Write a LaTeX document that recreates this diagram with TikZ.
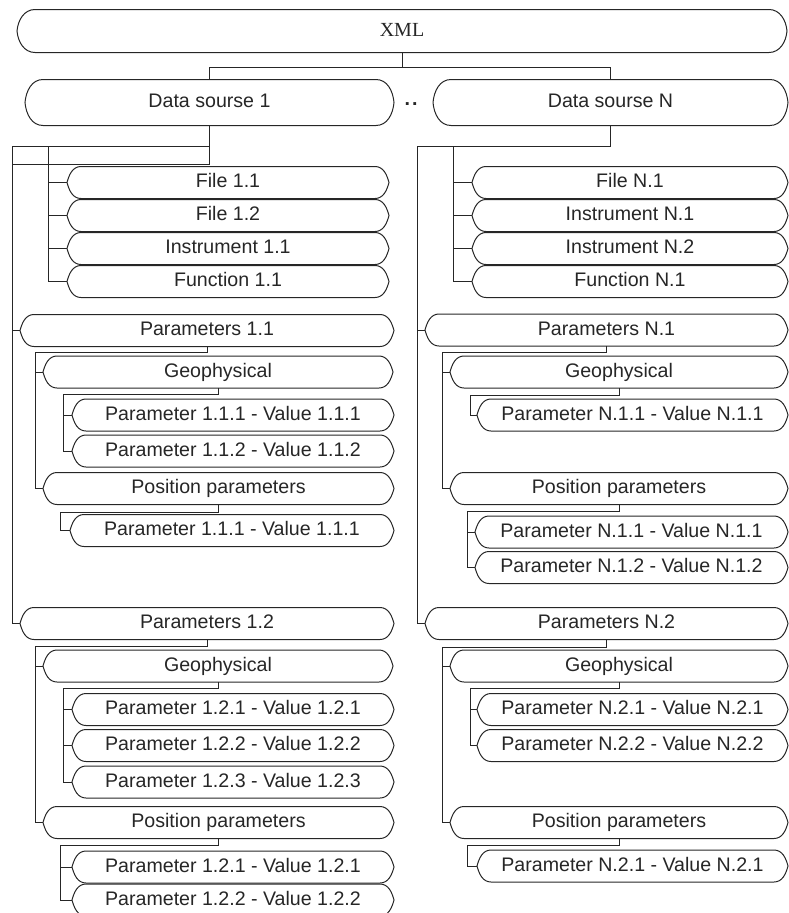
\documentclass[tikz,border=0pt]{standalone}
\usepackage{fontspec}
\setmainfont{Liberation Sans}
\newfontfamily\xmlfont{Liberation Serif}
\usepackage{tikz}
\usetikzlibrary{positioning}

\begin{document}
\begin{tikzpicture}[x=1pt,y=-1pt,line width=1pt,color=black!85,
    capsule/.style={inner sep=0pt,anchor=west,minimum height=31pt,font=\fontsize{19.6}{23}\selectfont,text height=14pt,text depth=4pt},
    bigcapsule/.style={capsule,minimum height=45pt},
    link/.style={line width=1pt}]
  \useasboundingbox (0,0) rectangle (788,913);
  % top levels
  \node[bigcapsule,minimum width=769,minimum height=42pt,font=\xmlfont\fontsize{20}{23}\selectfont] (xml) at (17,31) {XML};
  \node[bigcapsule,minimum width=368] (ds1) at (25,102.5) {Data sourse 1};
  \node[bigcapsule,minimum width=354] (dsN) at (433,102.5) {Data sourse N};
  \node[font=\bfseries\fontsize{19.6}{23}\selectfont,inner sep=0pt] (dots) at (411,104) {.\kern2pt.};
  % data source 1
  \node[capsule,minimum width=321] (f11) at (67,182.5) {File 1.1};
  \node[capsule,minimum width=321] (f12) at (67,215.5) {File 1.2};
  \node[capsule,minimum width=321] (i11) at (67,248.5) {Instrument 1.1};
  \node[capsule,minimum width=321] (fn11) at (67,281.5) {Function 1.1};
  \node[capsule,minimum width=373] (p11) at (20,330.5) {Parameters 1.1};
  \node[capsule,minimum width=349] (g11) at (43,372) {Geophysical};
  \node[capsule,minimum width=321] (v111) at (72,415) {Parameter 1.1.1 - Value 1.1.1};
  \node[capsule,minimum width=321] (v112) at (72,451) {Parameter 1.1.2 - Value 1.1.2};
  \node[capsule,minimum width=350] (pp11) at (43,488.5) {Position parameters};
  \node[capsule,minimum width=323] (w111) at (70,530.5) {Parameter 1.1.1 - Value 1.1.1};
  \node[capsule,minimum width=373] (p12) at (20,623.5) {Parameters 1.2};
  \node[capsule,minimum width=349] (g12) at (43,666) {Geophysical};
  \node[capsule,minimum width=321] (v121) at (72,709.5) {Parameter 1.2.1 - Value 1.2.1};
  \node[capsule,minimum width=321] (v122) at (72,745.5) {Parameter 1.2.2 - Value 1.2.2};
  \node[capsule,minimum width=321] (v123) at (72,782) {Parameter 1.2.3 - Value 1.2.3};
  \node[capsule,minimum width=350] (pp12) at (43,822.5) {Position parameters};
  \node[capsule,minimum width=321] (w121) at (72,867) {Parameter 1.2.1 - Value 1.2.1};
  \node[capsule,minimum width=321] (w122) at (72,900) {Parameter 1.2.2 - Value 1.2.2};
  % data source N
  \node[capsule,minimum width=315] (fN1) at (472,182.5) {File N.1};
  \node[capsule,minimum width=315] (iN1) at (472,215.5) {Instrument N.1};
  \node[capsule,minimum width=315] (iN2) at (472,248.5) {Instrument N.2};
  \node[capsule,minimum width=315] (fnN1) at (472,281.5) {Function N.1};
  \node[capsule,minimum width=362] (pN1) at (425,330) {Parameters N.1};
  \node[capsule,minimum width=337] (gN1) at (450,372) {Geophysical};
  \node[capsule,minimum width=310] (vN11) at (477,415) {Parameter N.1.1 - Value N.1.1};
  \node[capsule,minimum width=337] (ppN1) at (450,488.5) {Position parameters};
  \node[capsule,minimum width=312] (wN11) at (475,532) {Parameter N.1.1 - Value N.1.1};
  \node[capsule,minimum width=312] (wN12) at (475,567.5) {Parameter N.1.2 - Value N.1.2};
  \node[capsule,minimum width=362] (pN2) at (425,623.5) {Parameters N.2};
  \node[capsule,minimum width=337] (gN2) at (450,666) {Geophysical};
  \node[capsule,minimum width=310] (vN21) at (477,709.5) {Parameter N.2.1 - Value N.2.1};
  \node[capsule,minimum width=310] (vN22) at (477,745.5) {Parameter N.2.2 - Value N.2.2};
  \node[capsule,minimum width=337] (ppN2) at (450,822.5) {Position parameters};
  \node[capsule,minimum width=310] (wN21) at (477,866) {Parameter N.2.1 - Value N.2.1};
  % outlines
  \foreach \n in {xml,ds1,dsN}
    \draw ([xshift=18]\n.north west) -- ([xshift=-18]\n.north east) to[out=0,in=95] (\n.east)
      to[out=-95,in=0] ([xshift=-18]\n.south east) -- ([xshift=18]\n.south west)
      to[out=180,in=-85] (\n.west) to[out=85,in=180] ([xshift=18]\n.north west) -- cycle;
  \foreach \n in {f11,f12,i11,fn11,p11,g11,v111,v112,pp11,w111,p12,g12,v121,v122,v123,pp12,w121,w122,
      fN1,iN1,iN2,fnN1,pN1,gN1,vN11,ppN1,wN11,wN12,pN2,gN2,vN21,vN22,ppN2,wN21}
    \draw ([xshift=14]\n.north west) -- ([xshift=-14]\n.north east) to[out=0,in=105] (\n.east)
      to[out=-105,in=0] ([xshift=-14]\n.south east) -- ([xshift=14]\n.south west)
      to[out=180,in=-75] (\n.west) to[out=75,in=180] ([xshift=14]\n.north west) -- cycle;
  % connectors
  \draw[link] (xml.south) -- ++(0,15) coordinate (jx);
  \draw[link] (ds1.north) |- (jx) -| (dsN.north);
  \coordinate (t1) at (12,146);
  \coordinate (s1) at (48,146);
  \draw[link] (ds1.south) |- (12,164);
  \draw[link] (ds1.south |- t1) -- (t1) |- (p12.west);
  \draw[link] (t1) |- (p11.west);
  \draw[link] (s1) |- (fn11.west);
  \foreach \n in {f11,f12,i11}
    \draw[link] (s1 |- \n.west) -- (\n.west);
  \coordinate (t2) at (417,146);
  \coordinate (s2) at (453,146);
  \draw[link] (dsN.south) |- (t2) |- (pN2.west);
  \draw[link] (t2) |- (pN1.west);
  \draw[link] (s2) |- (fnN1.west);
  \foreach \n in {fN1,iN1,iN2}
    \draw[link] (s2 |- \n.west) -- (\n.west);
  % parameters 1.x
  \draw[link] (p11.south) -- ++(0,6) -| ([xshift=-8]pp11.west) -- (pp11.west);
  \draw[link] (g11.west) -- ++(-8,0);
  \draw[link] (g11.south) -- ++(0,6) -| ([xshift=-9]v112.west) -- (v112.west);
  \draw[link] (v111.west) -- ++(-9,0);
  \draw[link] (pp11.south) -- ++(0,8) -| ([xshift=-10]w111.west) -- (w111.west);
  \draw[link] (p12.south) -- ++(0,7) -| ([xshift=-8]pp12.west) -- (pp12.west);
  \draw[link] (g12.west) -- ++(-8,0);
  \draw[link] (g12.south) -- ++(0,6) -| ([xshift=-9]v123.west) -- (v123.west);
  \foreach \n in {v121,v122}
    \draw[link] (\n.west) -- ++(-9,0);
  \draw[link] (pp12.south) -- ++(0,7) -| ([xshift=-12]w122.west) -- (w122.west);
  \draw[link] (w121.west) -- ++(-12,0);
  % parameters N.x
  \draw[link] (pN1.south) -- ++(0,6) -| ([xshift=-8]ppN1.west) -- (ppN1.west);
  \draw[link] (gN1.west) -- ++(-8,0);
  \draw[link] (gN1.south) -- ++(0,7) -| ([xshift=-7]vN11.west) -- (vN11.west);
  \draw[link] (ppN1.south) -- ++(0,7) -| ([xshift=-8]wN12.west) -- (wN12.west);
  \draw[link] (wN11.west) -- ++(-8,0);
  \draw[link] (pN2.south) -- ++(0,8) -| ([xshift=-8]ppN2.west) -- (ppN2.west);
  \draw[link] (gN2.west) -- ++(-8,0);
  \draw[link] (gN2.south) -- ++(0,6) -| ([xshift=-7]vN22.west) -- (vN22.west);
  \draw[link] (vN21.west) -- ++(-7,0);
  \draw[link] (ppN2.south) -- ++(0,7) -| ([xshift=-10]wN21.west) -- (wN21.west);
\end{tikzpicture}
\end{document}
